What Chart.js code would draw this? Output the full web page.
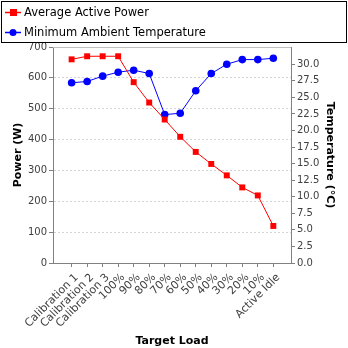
<!DOCTYPE html>
<html>
<head>
<meta charset="utf-8">
<script src="https://cdn.jsdelivr.net/npm/chart.js@4"></script>
<style>
html,body{margin:0;padding:0;background:#fff;}
#wrap{width:348px;height:348px;position:relative;}
</style>
</head>
<body>
<div id="wrap"><canvas id="c" width="348" height="348"></canvas></div>
<script>
const categories = ["Calibration 1","Calibration 2","Calibration 3","100%","90%","80%","70%","60%","50%","40%","30%","20%","10%","Active Idle"];
const powerValues = [660,670,670,670,586,520,465,409,360,321,284,245,219,120];
const temperatureValues = [27.2,27.4,28.2,28.8,29.1,28.6,22.4,22.6,26.0,28.6,30.0,30.7,30.7,30.9];
const powerLabel = "Average Active Power";
const tempLabel = "Minimum Ambient Temperature";
const xTitle = "Target Load";
const yTitle = "Power (W)";
const y2Title = "Temperature (°C)";

const FONT = "'DejaVu Sans', sans-serif";

const legendPlugin = {
  id: 'boxLegend',
  afterDraw(chart) {
    const ctx = chart.ctx;
    ctx.save();
    ctx.strokeStyle = '#000';
    ctx.lineWidth = 1;
    ctx.strokeRect(1.5, 1.5, 345, 41);
    const items = chart.data.datasets;
    items.forEach((ds, i) => {
      const y = 12 + i * 20;
      ctx.strokeStyle = ds.borderColor;
      ctx.lineWidth = 1.5;
      ctx.beginPath(); ctx.moveTo(5, y + 0.5); ctx.lineTo(21, y + 0.5); ctx.stroke();
      ctx.fillStyle = ds.backgroundColor;
      if (ds.pointStyle === 'rect') {
        ctx.fillRect(10, y - 3, 7, 7);
      } else {
        ctx.beginPath(); ctx.arc(13, y + 0.5, 3.5, 0, Math.PI * 2); ctx.fill();
      }
      ctx.fillStyle = '#000';
      ctx.font = "11.5px " + FONT;
      ctx.textBaseline = 'middle';
      ctx.textAlign = 'left';
      ctx.fillText(ds.label, 24, y + 1);
    });
    const a = chart.chartArea;
    ctx.strokeStyle = '#c0c0c0';
    ctx.lineWidth = 1;
    ctx.beginPath(); ctx.moveTo(a.left, Math.round(a.top) + 0.5); ctx.lineTo(a.right, Math.round(a.top) + 0.5); ctx.stroke();
    ctx.restore();
  }
};

new Chart(document.getElementById('c'), {
  type: 'line',
  data: {
    datasets: [
      {
        label: powerLabel,
        data: powerValues.map((v, i) => ({x: i, y: v})),
        borderColor: '#ff0000',
        backgroundColor: '#ff0000',
        borderWidth: 1,
        pointStyle: 'rect',
        pointRadius: 4.2,
        pointBorderWidth: 0,
        yAxisID: 'y'
      },
      {
        label: tempLabel,
        data: temperatureValues.map((v, i) => ({x: i, y: v})),
        borderColor: '#0000ff',
        backgroundColor: '#0000ff',
        borderWidth: 1,
        pointStyle: 'circle',
        pointRadius: 3.8,
        pointBorderWidth: 0,
        yAxisID: 'y2'
      }
    ]
  },
  options: {
    responsive: false,
    animation: false,
    devicePixelRatio: 1,
    layout: {padding: {top: 47, left: 0, right: 0, bottom: 0}},
    plugins: {legend: {display: false}, tooltip: {enabled: false}},
    scales: {
      x: {
        type: 'linear',
        min: -1.2,
        max: 14.14,
        afterBuildTicks(scale) { scale.ticks = categories.map((_, i) => ({value: i})); },
        afterFit(scale) { scale.height = 85; },
        ticks: {
          callback: (v) => categories[v],
          autoSkip: false,
          maxRotation: 45,
          minRotation: 45,
          padding: 4,
          labelOffset: 5,
          color: '#404040',
          font: {family: FONT, size: 11}
        },
        grid: {drawOnChartArea: false, tickLength: 4, tickColor: '#808080'},
        border: {color: '#808080'},
        title: {display: true, text: xTitle, color: '#000', font: {family: FONT, size: 11, weight: 'bold'}, padding: {top: 6, bottom: 0}}
      },
      y: {
        position: 'left',
        min: 0,
        max: 700,
        afterBuildTicks(scale) { const t = []; for (let v = 0; v <= 700; v += 100) t.push({value: v}); scale.ticks = t; },
        afterFit(scale) { scale.width = 53; },
        ticks: {padding: 2, color: '#404040', font: {family: FONT, size: 10}},
        grid: {color: '#d4d4d4', tickLength: 4, tickColor: '#808080', tickBorderDash: []},
        border: {color: '#808080', dash: [2, 2]},
        title: {display: true, text: yTitle, color: '#000', font: {family: FONT, size: 11, weight: 'bold'}, padding: {top: 12, bottom: 0}}
      },
      y2: {
        position: 'right',
        min: 0,
        max: 32.6,
        afterBuildTicks(scale) { const t = []; for (let v = 0; v <= 30; v += 2.5) t.push({value: v}); scale.ticks = t; },
        afterFit(scale) { scale.width = 57; },
        ticks: {padding: 2, color: '#404040', font: {family: FONT, size: 10}, callback: (v) => Number(v).toFixed(1)},
        grid: {drawOnChartArea: false, tickLength: 4, tickColor: '#808080'},
        border: {color: '#808080'},
        title: {display: true, text: y2Title, color: '#000', font: {family: FONT, size: 11, weight: 'bold'}, padding: {top: 12, bottom: 0}}
      }
    }
  },
  plugins: [legendPlugin]
});
</script>
</body>
</html>
